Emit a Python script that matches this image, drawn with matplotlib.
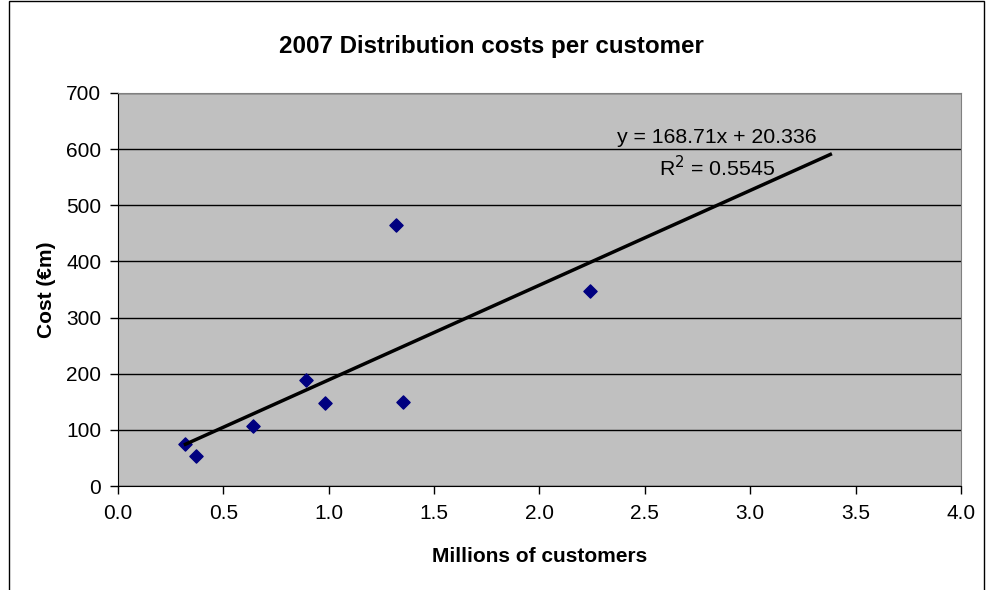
# Scatter of distribution cost against customer numbers, with linear trendline

import matplotlib.pyplot as plt
from matplotlib.patches import Rectangle

plt.rcParams["font.family"] = ["Liberation Sans", "DejaVu Sans"]

customers_m = [0.32, 0.37, 0.64, 0.89, 0.98, 1.32, 1.35, 2.24]
cost_m = [74, 53, 106, 188, 147, 464, 150, 348]

slope = 168.71
intercept = 20.336
r_squared = 0.5545
trend_end = 3.38  # trendline forecast forward past last point

fig = plt.figure(figsize=(9.87, 5.9), dpi=100)
ax = fig.add_axes([118 / 987, 1 - 486 / 590, (961 - 118) / 987, (486 - 93) / 590])

# chart border
fig.patches.append(Rectangle((9 / 987, -0.1), (984 - 9) / 987, 1.1 - 1.5 / 590,
                             transform=fig.transFigure, fill=False,
                             edgecolor="black", linewidth=1))

ax.set_facecolor("#C0C0C0")
ax.set_xlim(0, 4)
ax.set_ylim(0, 700)
ax.set_xticks([i * 0.5 for i in range(9)])
ax.set_xticklabels([f"{i * 0.5:.1f}" for i in range(9)])
ax.set_yticks(range(0, 701, 100))

ax.grid(axis="y", color="black", linewidth=1)
ax.set_axisbelow(True)
for side in ["top", "right"]:
    ax.spines[side].set_color("#808080")
for side in ["left", "bottom"]:
    ax.spines[side].set_color("black")
ax.tick_params(direction="out", length=6, width=1, labelsize=15, colors="black")
ax.tick_params(axis="x", pad=7)
ax.tick_params(axis="y", pad=6)

ax.scatter(customers_m, cost_m, marker="D", s=45, color="#000080", zorder=3)

x0 = min(customers_m)
xs = [x0, trend_end]
ax.plot(xs, [slope * x + intercept for x in xs], color="black", linewidth=2.5, zorder=4)

ax.text(2.84, 621, f"y = {slope}x + {intercept}", fontsize=15.3, ha="center", va="center")
ax.text(2.84, 568, f"R$^2$ = {r_squared}", fontsize=15.3, ha="center", va="center")

fig.text(491 / 987, 1 - 46 / 590, "2007 Distribution costs per customer",
         fontsize=17.4, fontweight="bold", ha="center", va="center")
ax.set_xlabel("Millions of customers", fontsize=15, fontweight="bold", labelpad=17)
ax.set_ylabel("Cost (€m)", fontsize=15, fontweight="bold", labelpad=7)

fig.savefig("out.png", dpi=100)
